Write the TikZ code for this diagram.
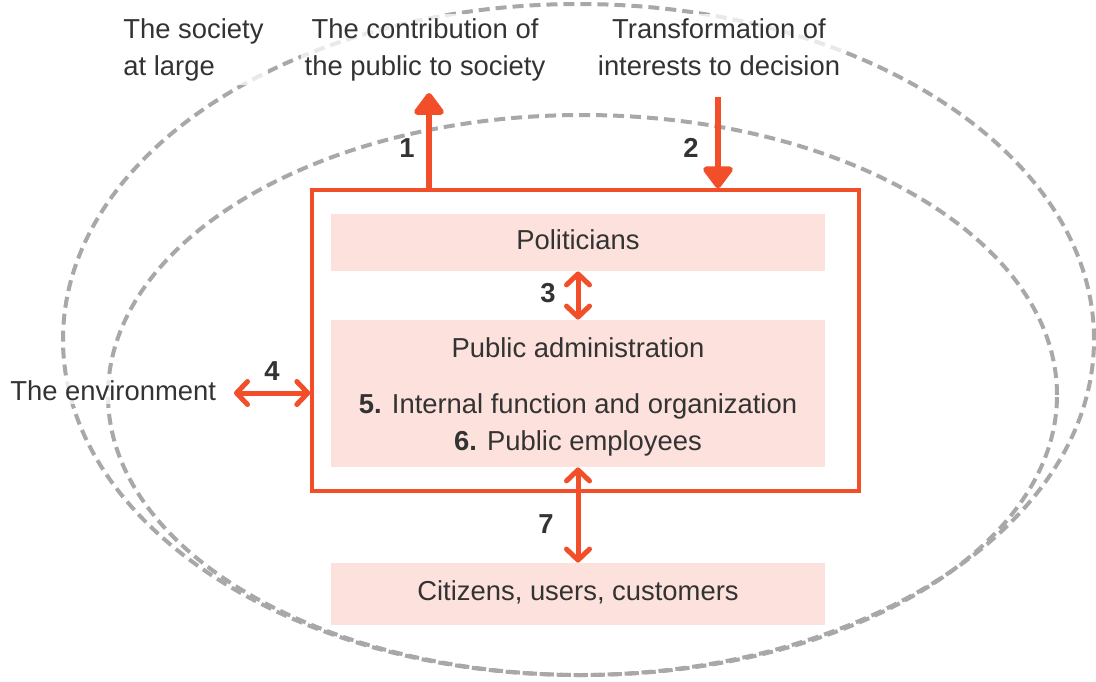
\documentclass[tikz,border=0pt]{standalone}
\usepackage{fontspec}
\setmainfont{Liberation Sans}
\usetikzlibrary{arrows.meta}
\definecolor{accent}{HTML}{F24E29}
\definecolor{blush}{HTML}{FCE1DC}
\definecolor{ink}{HTML}{333333}
\definecolor{haze}{HTML}{A8A8A8}

\begin{document}
\begin{tikzpicture}[x=0.5pt,y=-0.5pt,
    every node/.style={text=ink,font=\fontsize{13.7}{18.5}\selectfont},
    ringline/.style={draw=haze,line width=2pt,dash pattern=on 5.5pt off 3pt},
    halo/.style={fill=white,fill opacity=0.75,text opacity=1,inner sep=2pt},
    pink/.style={fill=blush,inner sep=0,minimum width=247pt,
      text height=9.8pt,text depth=3pt},
    num/.style={font=\fontsize{13.7}{16}\selectfont\bfseries,anchor=base},
    oneway/.style={draw=accent,line width=3pt,
      -{Triangle[round,length=12pt,width=17pt]}},
    twoway/.style={draw=accent,line width=2.5pt,line cap=round,
      {Straight Barb[round,length=5.5pt,width=11.5pt]}-{Straight Barb[round,length=5.5pt,width=11.5pt]}}
  ]
  \useasboundingbox (0,0) rectangle (1096,681);

  % society and environment
  \draw[ringline] (578.5,339.5) ellipse [x radius=257.75pt, y radius=167.75pt];
  \draw[ringline] (582.5,395) ellipse [x radius=237.25pt, y radius=140pt];

  \path
  (119,14) node[halo,anchor=north west,align=left](soc) {The society\\at large}
  (425,14) node[halo,anchor=north,align=center](contrib) {The contribution of\\the public to society}
  (719,14) node[halo,anchor=north,align=center](transf) {Transformation of\\interests to decision}
  (6,400) node[halo,anchor=base west](env) {The environment}
  ;

  % the public sector
  \node[draw=accent,line width=1.7pt,inner sep=0,
    minimum width=273.5pt,minimum height=150.5pt] (frame) at (585.5,340.5) {};

  \path
  (578,242.5) node[pink,minimum height=28.5pt](pol) {Politicians}
  (578,393.5) node[pink,minimum height=73.5pt](adm) {}
  (578,594) node[pink,minimum height=31pt](cit) {Citizens, users, customers}
  ;
  \node[anchor=north,align=center,inner sep=0] (admtext) at (578,337)
    {Public administration\\[9.6pt]
    \textbf{5.} Internal function and organization\\
    \textbf{6.} Public employees};

  \coordinate (out1) at (429,93);
  \coordinate (in2) at (718,97);
  \coordinate (env4) at (234,393);

  \draw[oneway] (out1 |- frame.north) -- (out1);
  \draw[oneway] (in2) -- (in2 |- frame.north);
  \draw[twoway] (pol.south) -- (adm.north);
  \draw[twoway] (env4) -- (env4 -| frame.west);
  \draw[twoway] (adm.south) -- (cit.north);

  \path
  (407,157) node[num](n1) {1}
  (691,157) node[num](n2) {2}
  (548,302) node[num](n3) {3}
  (272,380) node[num](n4) {4}
  (546,533) node[num](n7) {7}
  ;
\end{tikzpicture}
\end{document}
